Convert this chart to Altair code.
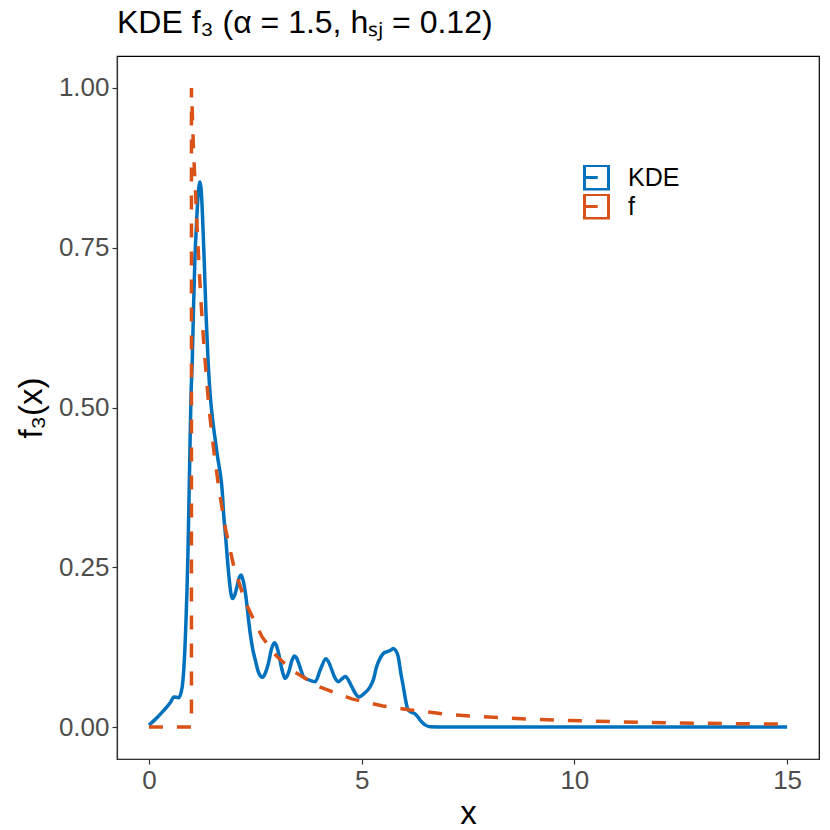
import altair as alt
import pandas as pd

# KDE curve
kde_x = [0.00, 0.15, 0.35, 0.50, 0.59, 0.70, 0.78, 0.86, 0.92, 0.96, 0.99, 1.02, 1.05, 1.08,
         1.12, 1.16, 1.20, 1.23, 1.26, 1.30, 1.34, 1.39, 1.44, 1.50, 1.57, 1.62, 1.67, 1.72,
         1.76, 1.80, 1.875, 1.93, 1.97, 2.02, 2.07, 2.13, 2.17, 2.22, 2.27, 2.33, 2.38, 2.44,
         2.50, 2.58, 2.67, 2.74, 2.81, 2.88, 2.95, 3.00, 3.05, 3.12, 3.20, 3.25, 3.30, 3.36,
         3.42, 3.47, 3.52, 3.58, 3.63, 3.75, 3.91, 4.03, 4.16, 4.23, 4.30, 4.38, 4.45, 4.53,
         4.62, 4.70, 4.77, 4.85, 4.94, 5.05, 5.20, 5.28, 5.35, 5.43, 5.51, 5.60, 5.68, 5.74,
         5.80, 5.86, 5.92, 5.98, 6.04, 6.09, 6.17, 6.25, 6.33, 6.41, 6.50, 6.60, 7.00, 10.0,
         15.0]
kde_y = [0.003, 0.012, 0.026, 0.038, 0.047, 0.046, 0.062, 0.145, 0.28, 0.42, 0.52, 0.574, 0.66, 0.73,
         0.79, 0.835, 0.853, 0.84, 0.80, 0.73, 0.65, 0.574, 0.52, 0.48, 0.444, 0.42, 0.40, 0.372,
         0.33, 0.30, 0.24, 0.208, 0.201, 0.207, 0.22, 0.235, 0.238, 0.228, 0.209, 0.175, 0.147, 0.122,
         0.105, 0.085, 0.078, 0.085, 0.10, 0.122, 0.132, 0.127, 0.115, 0.092, 0.076, 0.080, 0.089, 0.104,
         0.111, 0.108, 0.10, 0.088, 0.079, 0.074, 0.071, 0.09, 0.107, 0.101, 0.089, 0.076, 0.071, 0.075,
         0.079, 0.072, 0.063, 0.053, 0.047, 0.052, 0.063, 0.075, 0.094, 0.107, 0.115, 0.118, 0.120, 0.123,
         0.12, 0.11, 0.085, 0.063, 0.040, 0.027, 0.023, 0.021, 0.015, 0.008, 0.003, 0.0005, 0.0, 0.0,
         0.0]

# true density f
f_x = [0.00, 1.00, 1.00, 1.05, 1.10, 1.14, 1.22, 1.30, 1.41, 1.53, 1.64, 1.80, 2.00, 2.27,
       2.66, 3.00, 3.36, 4.00, 4.77, 5.50, 6.10, 7.00, 7.62, 8.29, 8.95, 9.62, 10.28, 10.95,
       11.60, 12.23, 12.90, 13.56, 14.20, 15.00]
f_y = [0.0, 0.0, 1.0, 0.90, 0.83, 0.77, 0.67, 0.59, 0.50, 0.43, 0.375, 0.31, 0.25, 0.195,
       0.141, 0.111, 0.089, 0.063, 0.044, 0.033, 0.027, 0.020, 0.017, 0.0145, 0.0125, 0.0108, 0.0095, 0.0083,
       0.0074, 0.0067, 0.0060, 0.0054, 0.0050, 0.0045]

series = ["KDE", "f"]
colors = ["#0072BD", "#D95319"]

kde = pd.DataFrame({"x": kde_x, "y": kde_y, "s": "KDE", "i": range(len(kde_x))})
fd = pd.DataFrame({"x": f_x, "y": f_y, "s": "f", "i": range(len(f_x))})

FONT = "Liberation Sans"
key_path = "M-1,-1L1,-1L1,1L-1,1Z M-1,0L0.1,0"

xs = alt.X("x:Q", scale=alt.Scale(domain=[-0.75, 15.75], nice=False, zero=False),
           axis=alt.Axis(values=[0, 5, 10, 15], format="d", title="x", grid=False))
ys = alt.Y("y:Q", scale=alt.Scale(domain=[-0.05, 1.05], nice=False, zero=False),
           axis=alt.Axis(values=[0, 0.25, 0.5, 0.75, 1.0], format=".2f", title="f₃(x)", grid=False))
col = alt.Color("s:N", scale=alt.Scale(domain=series, range=colors),
                legend=alt.Legend(title=None, orient="none", legendX=466, legendY=109,
                                  symbolType=key_path, symbolSize=576, symbolStrokeWidth=3,
                                  symbolFillColor="white", labelFontSize=25, labelFont=FONT,
                                  labelColor="black", rowPadding=3, labelOffset=18,
                                  clipHeight=25, symbolOffset=0))

l1 = alt.Chart(kde).mark_line(strokeWidth=3.5, interpolate="monotone").encode(
    x=xs, y=ys, color=col, order="i:Q")
l2 = alt.Chart(fd).mark_line(strokeWidth=3.5, strokeDash=[14, 14]).encode(
    x=xs, y=ys, color=col, order="i:Q")

chart = alt.layer(l1, l2).properties(
    width=702, height=703,
    title=alt.TitleParams("KDE f₃ (α = 1.5, hₛⱼ = 0.12)", anchor="start", fontSize=32,
                          font=FONT, fontWeight="normal", color="black", offset=16, frame="group"),
    padding={"left": 109, "top": 48, "right": 3, "bottom": 70},
    autosize=alt.AutoSizeParams(type="none"),
).configure_view(stroke="black", strokeWidth=1.2).configure_axis(
    labelFont=FONT, labelFontSize=26, labelColor="#4D4D4D",
    titleFont=FONT, titleFontSize=33, titleColor="black", titleFontWeight="normal",
    domainColor="#333333", tickColor="#333333", tickSize=5, domainWidth=1.2, tickWidth=1.2,
    labelPadding=3,
).configure_axisY(titlePadding=10).configure_axisX(titlePadding=4)

chart.save("out.html", embed_options={"renderer": "svg", "actions": False})
